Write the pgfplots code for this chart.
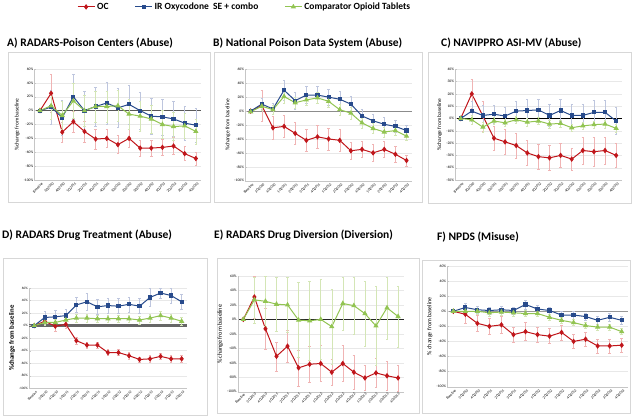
\documentclass[border=0pt]{standalone}
\usepackage{fontspec}
\setmainfont{Carlito}
\usepackage{pgfplots}
\usepackage{pgfplotstable}
\pgfplotsset{compat=1.18}

\definecolor{ocred}{RGB}{192,22,27}
\definecolor{irblue}{RGB}{40,75,140}
\definecolor{cmpgreen}{RGB}{146,196,82}
\definecolor{ocerr}{RGB}{240,180,180}
\definecolor{irerr}{RGB}{190,198,222}
\definecolor{cmperr}{RGB}{212,230,182}
\definecolor{boxgray}{RGB}{215,215,215}

\pgfplotstableread{
x r re b be g ge
0 0 0 0 0 0 0
1 25 27 5 25 7 20
2 -31 15 -10 25 -7 20
3 -16 15 20 32 14 25
4 -30 15 0 28 0 22
5 -41 14 6 28 6 22
6 -40 13 11 30 6 22
7 -49 13 4 28 7 22
8 -40 13 9 28 -5 22
9 -54 12 0 27 -8 22
10 -54 12 -8 26 -12 20
11 -53 12 -9 26 -20 20
12 -51 12 -12 25 -23 20
13 -62 10 -18 25 -22 18
14 -69 9 -21 25 -30 18
}\dataA

\pgfplotstableread{
x r re b be g ge
0 0 0 0 0 -1 0
1 8 22 10 8 7 6
2 -24 16 3 8 2 6
3 -22 16 30 14 21 10
4 -32 16 15 12 12 8
5 -42 16 23 12 16 8
6 -37 16 23 12 19 8
7 -40 16 20 12 14 8
8 -42 16 17 12 2 8
9 -57 12 10 12 -3 8
10 -55 12 -7 10 -17 7
11 -60 12 -14 10 -25 7
12 -55 12 -19 10 -30 7
13 -62 12 -22 9 -28 6
14 -71 8 -28 8 -36 6
}\dataB

\pgfplotstableread{
x r re b be g ge
0 0 0 0 0 0 0
1 20 12 6 8 -1 4
2 2 12 2.5 8 -7 4
3 -16 10 3.5 7 -2 3
4 -19 10 2 7 -3.5 3
5 -22 10 6 8 -1 3
6 -28 10 6.5 9 -3 3
7 -31 10 7 9 -2 3
8 -32 10 2.5 9 -4.5 3
9 -30 10 6.5 9 -4 3
10 -33 9 2.5 9 -7.5 3
11 -26 11 2.5 9 -6 3
12 -27 12 5 10 -5 3
13 -26 11 5 10 -4.5 3
14 -30 10 -2 11 -8 3
}\dataC

\pgfplotstableread{
x r re b be g ge
0 0 0 0 0 0 0
1 7 6 13 10 5 5
2 -1 8 14 10 5 5
3 2 6 16 10 9 5
4 -24 6 33 12 12 6
5 -31 5 38 13 12 6
6 -31 5 30 12 11 6
7 -43 5 32 12 11 6
8 -43 5 31 12 11 6
9 -48 5 34 12 11 6
10 -54 4 31 12 9 6
11 -53 5 45 14 12 6
12 -49 5 52 8 16 7
13 -53 5 48 12 12 6
14 -53 5 38 12 7 6
}\dataD

\pgfplotstableread{
x r re g ge
0 0 0 0 0
1 31 29 27 32
2 -13 28 25 35
3 -51 20 21 38
4 -37 22 20 38
5 -67 25 -1 52
6 -62 25 -2 55
7 -61 25 0 55
8 -73 18 -10 52
9 -61 25 22 37
10 -73 24 19 40
11 -81 17 8 45
12 -74 20 -9 55
13 -78 20 16 43
14 -81 18 4 42
}\dataE

\pgfplotstableread{
x r re b be g ge
0 0 0 0 0 0 0
1 -4 12 5 6 0 4
2 -16 11 2 5 0 4
3 -20 11 1 5 -2 4
4 -18 11 2 5 -1 4
5 -31 10 1 5 -2 4
6 -27 12 9 6 -3 4
7 -31 10 3 5 -3 4
8 -33 10 1 5 -8 4
9 -28 10 -5 5 -12 4
10 -40 9 -5 5 -15 4
11 -37 9 -7 5 -19 4
12 -46 9 -12 5 -21 4
13 -46 9 -8 5 -21 4
14 -45 9 -12 5 -27 4
}\dataF

\pgfplotsset{
  panel/.style={
    scale only axis,
    xmin=-0.5, xmax=14.5,
    xtick={0,...,14},
    xticklabels={Baseline,3Q2010,4Q2010,1Q2011,2Q2011,3Q2011,4Q2011,1Q2012,2Q2012,3Q2012,4Q2012,1Q2013,2Q2013,3Q2013,4Q2013},
    x tick label style={rotate=45, anchor=east, font=\fontsize{3.7}{4}\selectfont, inner sep=0.5pt, yshift=-4pt},
    y tick label style={font=\fontsize{3.7}{4}\selectfont, inner sep=1pt},
    yticklabel={\pgfmathprintnumber[assume math mode=true]{\tick}\%},
    axis lines*=left,
    axis line style={draw=gray!45, line width=0.4pt, -},
    xtick style={draw=none},
    ytick style={draw=gray!45, line width=0.3pt},
    major tick length=1.5pt,
    ymajorgrids,
    grid style={draw=gray!18, line width=0.4pt},
    extra y ticks={0},
    extra y tick labels={},
    ylabel={\%change from baseline},
    ylabel style={font=\fontsize{5.5}{6}\selectfont, inner sep=0pt},
    ylabel shift=3pt,
  },
  ocplot/.style={color=ocred, line width=1pt, mark=diamond*, mark size=2pt, mark options={solid},
    error bars/.cd, y dir=both, y explicit,
    error bar style={line width=0.45pt, color=ocerr},
    error mark options={rotate=90, mark size=1.2pt, line width=0.45pt, color=ocerr}},
  irplot/.style={color=irblue, line width=1pt, mark=square*, mark size=1.6pt, mark options={solid},
    error bars/.cd, y dir=both, y explicit,
    error bar style={line width=0.45pt, color=irerr},
    error mark options={rotate=90, mark size=1.2pt, line width=0.45pt, color=irerr}},
  cmpplot/.style={color=cmpgreen, line width=1pt, mark=triangle*, mark size=2.1pt, mark options={solid},
    error bars/.cd, y dir=both, y explicit,
    error bar style={line width=0.45pt, color=cmperr},
    error mark options={rotate=90, mark size=1.2pt, line width=0.45pt, color=cmperr}},
}

\begin{document}
\begin{tikzpicture}
\useasboundingbox (0,0) rectangle (635pt,416pt);
% panel boxes
\draw[boxgray, line width=0.6pt] (8pt,214pt) rectangle (210.5pt,364pt);
\draw[boxgray, line width=0.6pt] (214pt,214pt) rectangle (422pt,364pt);
\draw[boxgray, line width=0.6pt] (428pt,213pt) rectangle (631pt,364pt);
\draw[boxgray, line width=0.6pt] (3pt,1pt) rectangle (207pt,158pt);
\draw[boxgray, line width=0.6pt] (217pt,3pt) rectangle (419pt,158pt);
\draw[boxgray, line width=0.6pt] (422pt,3pt) rectangle (630pt,156pt);
% titles
\node[anchor=base west, inner sep=0pt, font=\fontsize{11.5}{12}\bfseries] at (7pt,369pt) {A) RADARS-Poison Centers (Abuse)};
\node[anchor=base west, inner sep=0pt, font=\fontsize{11.5}{12}\bfseries] at (213pt,369pt) {B) National Poison Data System (Abuse)};
\node[anchor=base west, inner sep=0pt, font=\fontsize{11.5}{12}\bfseries] at (441pt,369pt) {C) NAVIPPRO ASI-MV (Abuse)};
\node[anchor=base west, inner sep=0pt, font=\fontsize{11.5}{12}\bfseries] at (2pt,178pt) {D) RADARS Drug Treatment (Abuse)};
\node[anchor=base west, inner sep=0pt, font=\fontsize{11.5}{12}\bfseries] at (214pt,178pt) {E) RADARS Drug Diversion (Diversion)};
\node[anchor=base west, inner sep=0pt, font=\fontsize{11.5}{12}\bfseries] at (437pt,176pt) {F) NPDS (Misuse)};

% A
\begin{axis}[panel, at={(34.4pt,236pt)}, anchor=south west, width=167pt, height=111pt,
  ymin=-100, ymax=60, ytick={-100,-80,...,60},
  extra y tick style={grid style={draw=black!65, line width=1.2pt}}]
\addplot[ocplot] table[x=x,y=r,y error=re] {\dataA};
\addplot[irplot] table[x=x,y=b,y error=be] {\dataA};
\addplot[cmpplot] table[x=x,y=g,y error=ge] {\dataA};
\end{axis}

% B
\begin{axis}[panel, at={(245.1pt,235.3pt)}, anchor=south west, width=167pt, height=111.4pt,
  ymin=-100, ymax=60, ytick={-100,-80,...,60},
  extra y tick style={grid style={draw=black!45, line width=0.6pt}},
  legend style={at={(-0.003,1.56)}, anchor=center, draw=none, fill=none,
    font=\fontsize{9.5}{10}\selectfont\bfseries, legend columns=3,
    /tikz/every even column/.append style={column sep=24pt}},
  legend cell align=left]
\addplot[ocplot] table[x=x,y=r,y error=re] {\dataB};
\addplot[irplot] table[x=x,y=b,y error=be] {\dataB};
\addplot[cmpplot] table[x=x,y=g,y error=ge] {\dataB};
\legend{OC,IR Oxycodone\ \ SE + combo,Comparator Opioid Tablets}
\end{axis}

% C
\begin{axis}[panel, at={(455.1pt,236pt)}, anchor=south west, width=166.6pt, height=110.7pt,
  ymin=-50, ymax=40, ytick={-50,-40,...,40},
  extra y tick style={grid style={draw=black, line width=0.9pt}}]
\addplot[ocplot] table[x=x,y=r,y error=re] {\dataC};
\addplot[irplot] table[x=x,y=b,y error=be] {\dataC};
\addplot[cmpplot] table[x=x,y=g,y error=ge] {\dataC};
\end{axis}

% D
\begin{axis}[panel, at={(29pt,27.7pt)}, anchor=south west, width=157.9pt, height=100.3pt,
  ymin=-100, ymax=60, ytick={-100,-80,...,60},
  y tick label style={font=\fontsize{3.4}{4}\selectfont},
  x tick label style={font=\fontsize{3.5}{4}\selectfont, yshift=0pt},
  ylabel style={font=\fontsize{6.8}{7}\selectfont\bfseries},
  extra y tick style={grid style={draw=black!60, line width=2.4pt}}]
\addplot[ocplot] table[x=x,y=r,y error=re] {\dataD};
\addplot[irplot] table[x=x,y=b,y error=be] {\dataD};
\addplot[cmpplot] table[x=x,y=g,y error=ge] {\dataD};
\end{axis}

% E
\begin{axis}[panel, at={(237.8pt,24.3pt)}, anchor=south west, width=165.8pt, height=115.7pt,
  ymin=-100, ymax=60, ytick={-100,-80,...,60},
  x tick label style={yshift=1.5pt},
  ylabel style={font=\fontsize{6.2}{7}\selectfont},
  extra y tick style={grid style={draw=black!85, line width=0.9pt}}]
\addplot[ocplot] table[x=x,y=r,y error=re] {\dataE};
\addplot[cmpplot] table[x=x,y=g,y error=ge] {\dataE};
\end{axis}

% F
\begin{axis}[panel, at={(447.3pt,29.3pt)}, anchor=south west, width=180.4pt, height=120.7pt,
  ymin=-100, ymax=60, ytick={-100,-80,...,60},
  ylabel={\% change from baseline},
  ylabel style={font=\fontsize{6}{7}\selectfont},
  extra y tick style={grid style={draw=black!40, line width=0.8pt}}]
\addplot[ocplot] table[x=x,y=r,y error=re] {\dataF};
\addplot[irplot] table[x=x,y=b,y error=be] {\dataF};
\addplot[cmpplot] table[x=x,y=g,y error=ge] {\dataF};
\end{axis}
\end{tikzpicture}
\end{document}
